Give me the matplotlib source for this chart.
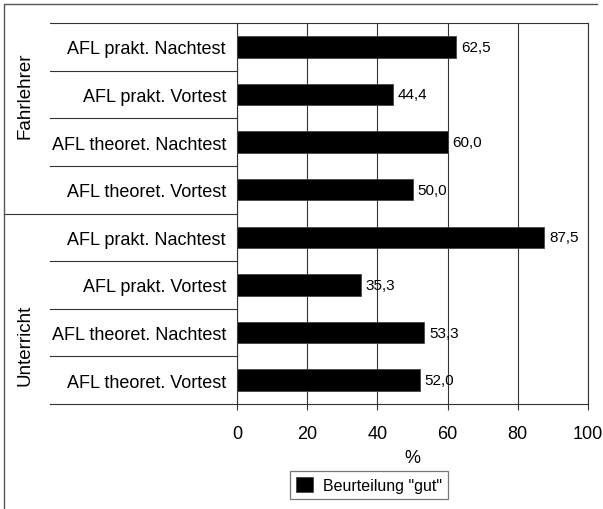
import matplotlib
matplotlib.use("Agg")
import matplotlib.pyplot as plt
from matplotlib.lines import Line2D
from matplotlib.transforms import blended_transform_factory

plt.rcParams['font.family'] = ['Liberation Sans', 'DejaVu Sans']

categories = ["AFL prakt. Nachtest", "AFL prakt. Vortest",
              "AFL theoret. Nachtest", "AFL theoret. Vortest",
              "AFL prakt. Nachtest", "AFL prakt. Vortest",
              "AFL theoret. Nachtest", "AFL theoret. Vortest"]
values = [62.5, 44.4, 60.0, 50.0, 87.5, 35.3, 53.3, 52.0]
groups = ["Fahrlehrer", "Unterricht"]
group_label_pos = [1.0, 6.25]   # category position of the rotated group labels
xticks = [0, 20, 40, 60, 80, 100]
legend_label = 'Beurteilung "gut"'

W, H = 603, 510
fig = plt.figure(figsize=(W / 100, H / 100), dpi=100)
ax = fig.add_axes([237 / W, 1 - 405 / H, 351 / W, 381 / H])

ypos = list(range(len(categories)))
ax.barh(ypos, values, height=0.45, color='black', edgecolor='#444444',
        linewidth=0.6, label=legend_label, zorder=3)
for y, v in zip(ypos, values):
    ax.annotate(f"{v:.1f}".replace('.', ','), (v, y), xytext=(3.5, 0),
                textcoords='offset points', va='center', ha='left',
                fontsize=11, zorder=4)

ax.set_xlim(0, 100)
ax.set_ylim(len(categories) - 0.5, -0.5)
ax.set_xticks(xticks)
ax.set_xticklabels([str(t) for t in xticks], fontsize=13)
ax.set_yticks(ypos)
ax.set_yticklabels(categories, fontsize=13)
ax.tick_params(axis='y', length=0, pad=8)
ax.tick_params(axis='x', length=4, width=0.8, color='#333333', pad=11)
ax.set_xlabel('%', fontsize=13, labelpad=5)
ax.xaxis.grid(True, color='#333333', linewidth=0.8, zorder=1)
for s in ax.spines.values():
    s.set_color('#333333')
    s.set_linewidth(0.8)

# lines of the label area on the left
tr = blended_transform_factory(ax.transAxes, ax.transData)
x_lab = (50 - 237) / 351
x_fig = (4 - 237) / 351
for b in [-0.5, 0.5, 1.5, 2.5, 4.5, 5.5, 6.5, 7.5]:
    ax.add_line(Line2D([x_lab, 0], [b, b], transform=tr, color='#333333',
                       linewidth=0.8, clip_on=False))
ax.add_line(Line2D([x_fig, 0], [3.5, 3.5], transform=tr, color='#333333',
                   linewidth=0.8, clip_on=False))

x_grp = (25 - 237) / 351
for g, p in zip(groups, group_label_pos):
    ax.text(x_grp, p, g, transform=tr, rotation=90, ha='center', va='center',
            fontsize=13.5)

# figure frame (left and top edges)
fig.add_artist(Line2D([4 / W, 4 / W, 597 / W], [0, 1 - 5 / H, 1 - 5 / H],
                      transform=fig.transFigure, color='#555555', linewidth=1))

leg = fig.legend(loc='center', bbox_to_anchor=(369 / W, 1 - 486 / H),
                 fontsize=11.5, fancybox=False, edgecolor='#555555',
                 handlelength=1.1, handleheight=1.1, borderpad=0.35,
                 handletextpad=0.6)
leg.get_frame().set_linewidth(0.9)

fig.savefig('out.png', dpi=100, facecolor='white')
